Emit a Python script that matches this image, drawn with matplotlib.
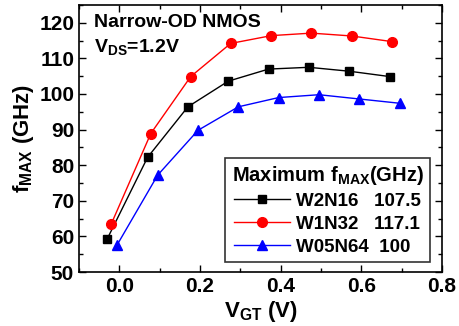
import matplotlib
matplotlib.use("Agg")
import matplotlib.pyplot as plt
from matplotlib.ticker import MultipleLocator

plt.rcParams['font.family'] = ['Liberation Sans', 'DejaVu Sans']
plt.rcParams['font.weight'] = 'bold'
plt.rcParams['mathtext.default'] = 'regular'

# data
vgt_w2 = [-0.03, 0.07, 0.17, 0.27, 0.37, 0.47, 0.57, 0.67]
fmax_w2 = [59.3, 82.2, 96.4, 103.6, 107.0, 107.5, 106.4, 104.9]
vgt_w1 = [-0.02, 0.078, 0.177, 0.276, 0.377, 0.476, 0.576, 0.677]
fmax_w1 = [63.5, 88.9, 104.9, 114.2, 116.4, 117.1, 116.3, 114.7]
vgt_w05 = [-0.005, 0.095, 0.195, 0.295, 0.395, 0.495, 0.595, 0.695]
fmax_w05 = [57.7, 77.2, 89.8, 96.4, 99.0, 99.8, 98.6, 97.4]
labels = ['W2N16   107.5', 'W1N32   117.1', 'W05N64  100']

fig = plt.figure(figsize=(4.6, 3.26), dpi=100)
ax = fig.add_axes([79/460, 1 - 272/326, (442-79)/460, (272-5)/326])

ax.plot(vgt_w2, fmax_w2, '-s', color='black', lw=1, ms=6, label=labels[0])
ax.plot(vgt_w1, fmax_w1, '-o', color='red', lw=1, ms=7, label=labels[1])
ax.plot(vgt_w05, fmax_w05, '-^', color='blue', lw=1, ms=7, label=labels[2])

ax.set_xlim(-0.1, 0.8)
ax.set_ylim(50, 125)
ax.xaxis.set_major_locator(MultipleLocator(0.2))
ax.xaxis.set_minor_locator(MultipleLocator(0.1))
ax.yaxis.set_major_locator(MultipleLocator(10))
ax.yaxis.set_minor_locator(MultipleLocator(5))
ax.tick_params(which='both', direction='in', top=True, right=True, labelsize=15, width=1)
ax.tick_params(which='major', length=5)
ax.tick_params(which='minor', length=3)
ax.xaxis.set_major_formatter(plt.FuncFormatter(lambda v, p: f"{v:.1f}"))
for s in ax.spines.values():
    s.set_linewidth(1.2)

ax.set_xlabel('$V_{GT}$ (V)', fontsize=16, fontweight='bold', labelpad=2)
ax.set_ylabel('$f_{MAX}$ (GHz)', fontsize=16, fontweight='bold', labelpad=2)

ax.text(0.04, 0.965, 'Narrow-OD NMOS', transform=ax.transAxes, fontsize=14,
        fontweight='bold', va='top')
ax.text(0.04, 0.88, '$V_{DS}$=1.2V', transform=ax.transAxes, fontsize=14,
        fontweight='bold', va='top')

leg = ax.legend(loc='lower right', title='Maximum $f_{MAX}$(GHz)', fontsize=13.5,
                title_fontsize=14.5, frameon=True, fancybox=False, edgecolor='black',
                handlelength=3.0, handletextpad=0.3, borderpad=0.35, labelspacing=0.3,
                borderaxespad=0, bbox_to_anchor=(0.967, 0.037))
leg.get_frame().set_linewidth(1.2)
leg.get_title().set_fontweight('bold')

fig.savefig('out.png', dpi=100)
